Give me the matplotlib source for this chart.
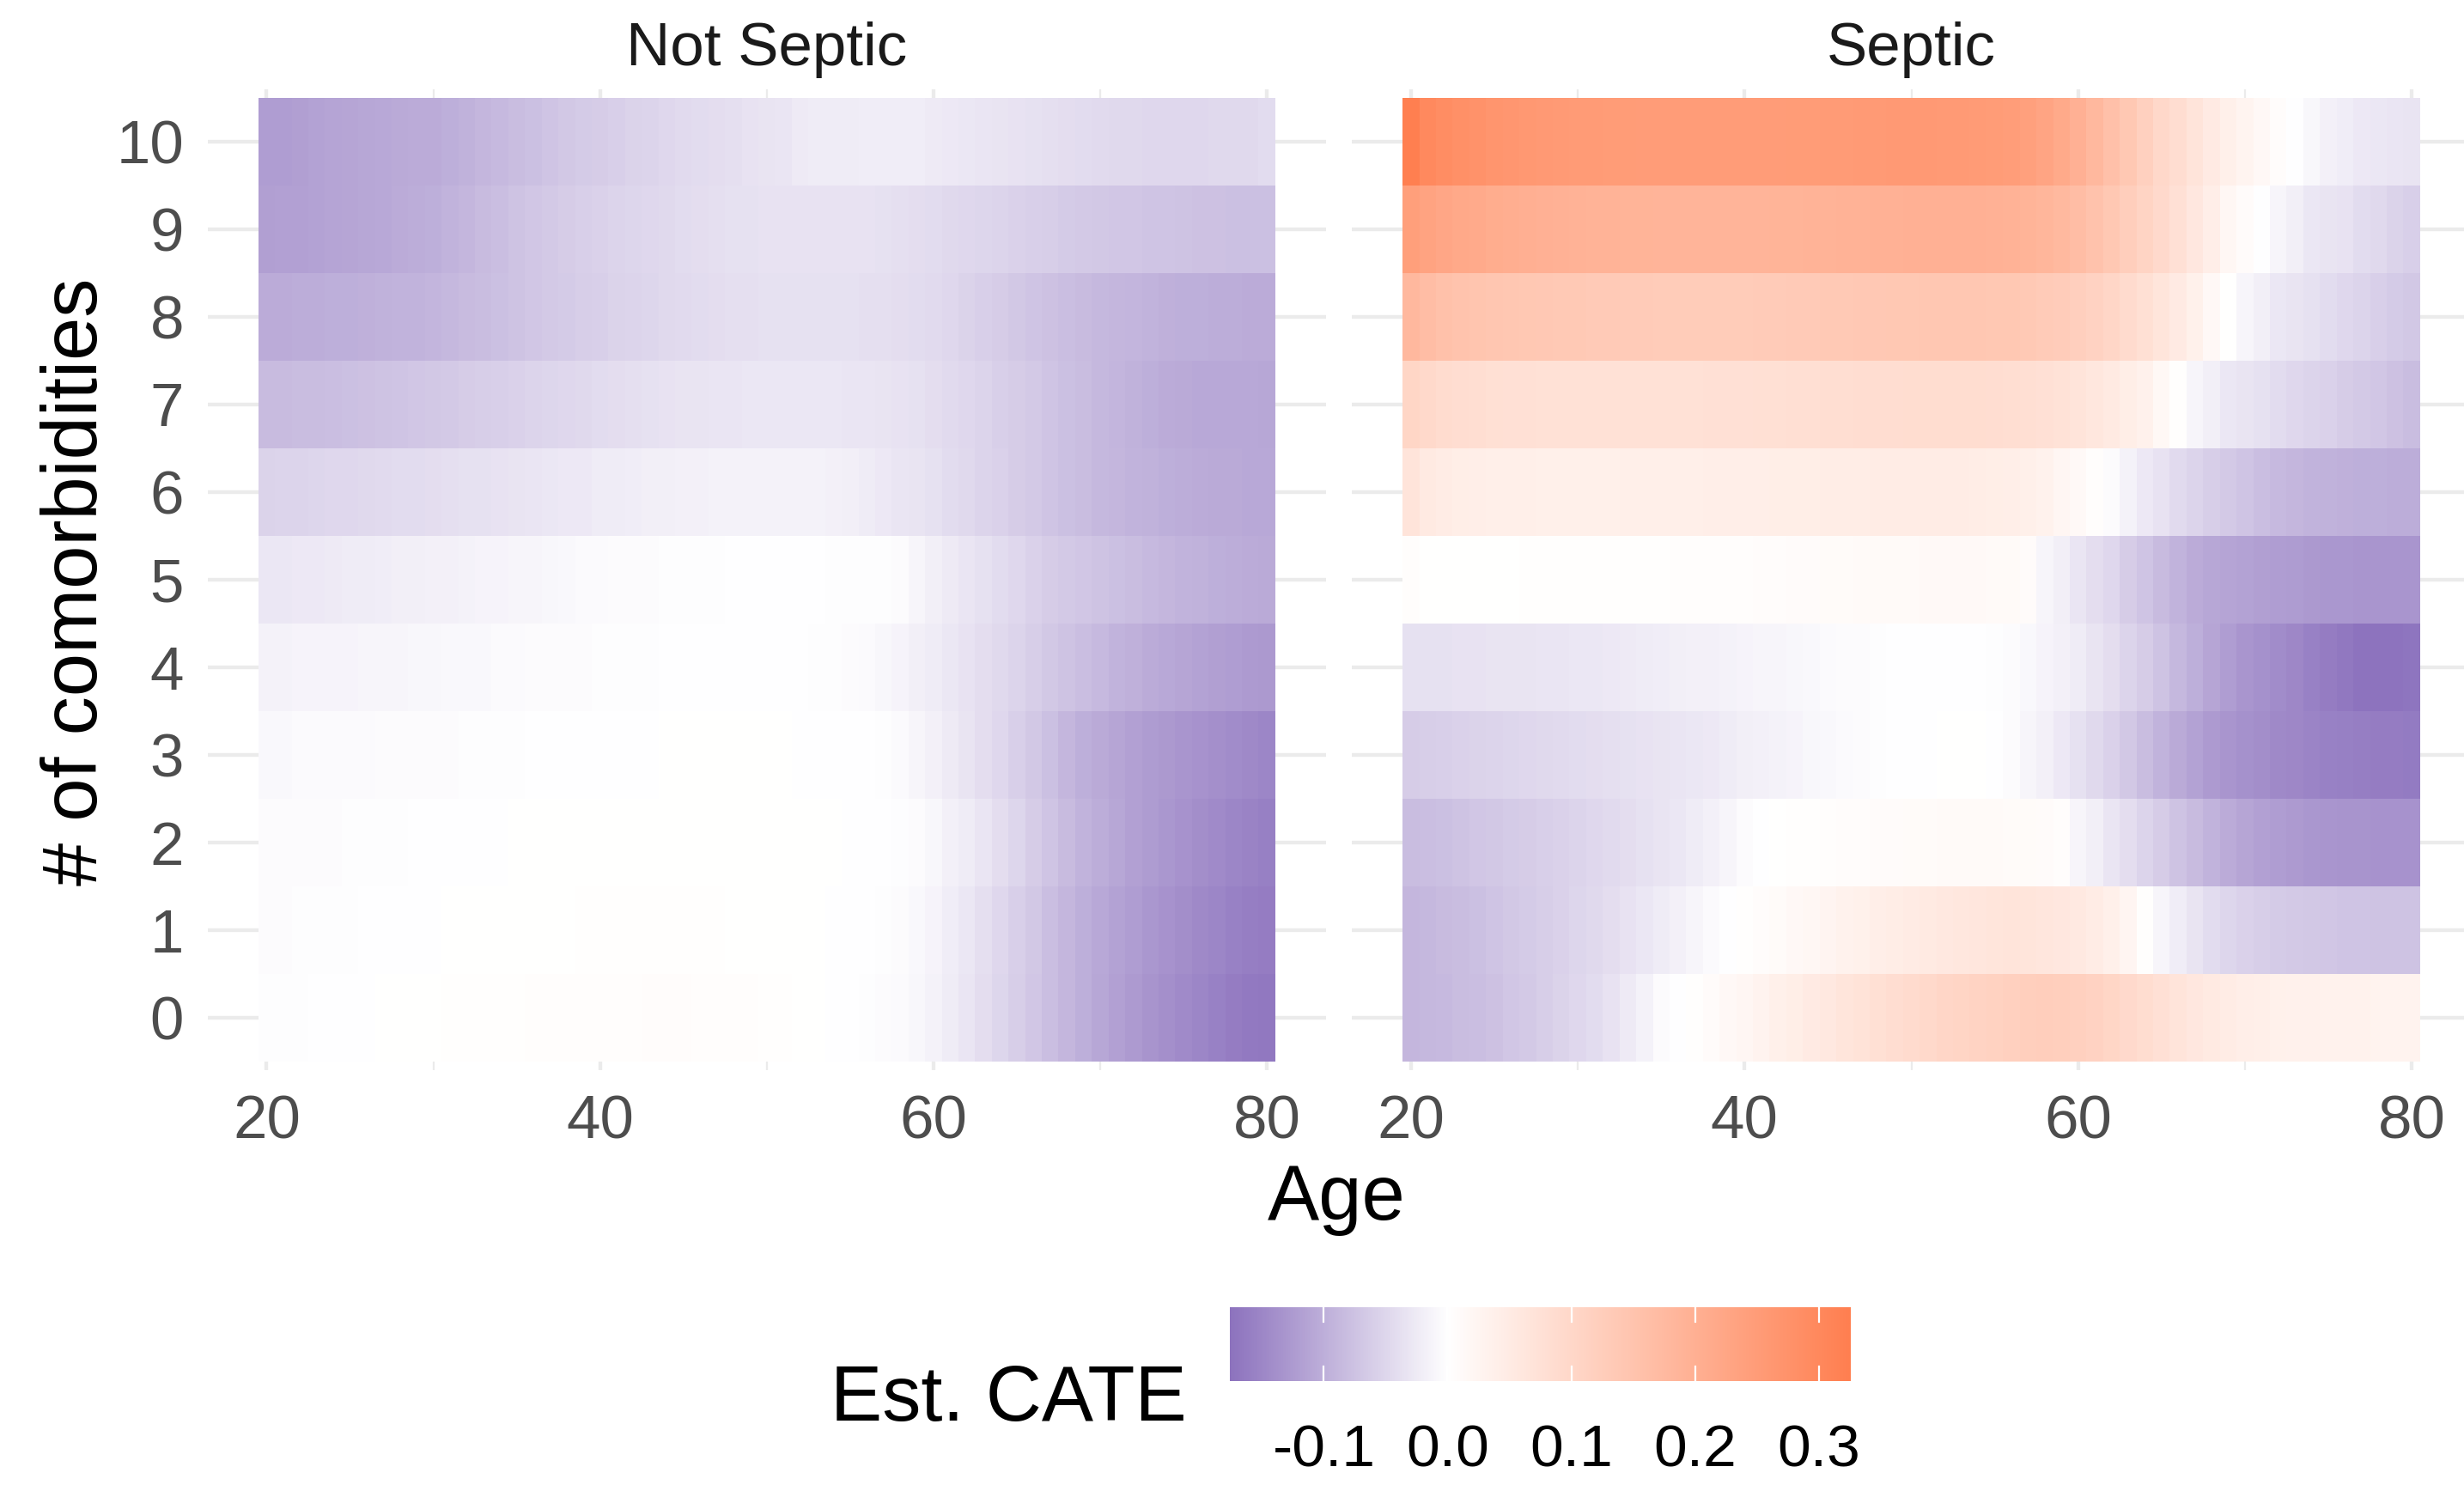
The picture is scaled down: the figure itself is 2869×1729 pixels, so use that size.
import numpy as np
import matplotlib
matplotlib.use("Agg")
import matplotlib.pyplot as plt
from matplotlib.colors import LinearSegmentedColormap, Normalize
from matplotlib.transforms import blended_transform_factory

# ---------------- data ----------------
ages = list(range(20, 81))
comorbidities = list(range(0, 11))
panel_titles = ["Not Septic", "Septic"]
x_tick_values = [20, 40, 60, 80]
x_minor_values = [30, 50, 70]
cbar_tick_values = [-0.1, 0.0, 0.1, 0.2, 0.3]
cbar_tick_labels = ["-0.1", "0.0", "0.1", "0.2", "0.3"]
x_label = "Age"
y_label = "# of comorbidities"
legend_title = "Est. CATE"

# Not Septic: one list per number of comorbidities, ages 20..80
not_septic_0 = [-0.003,-0.002,-0.002,-0.001,-0.001,0.000,0.000,0.001,0.001,0.002,
                0.002,0.003,0.003,0.004,0.004,0.004,0.005,0.005,0.005,0.006,
                0.006,0.006,0.006,0.007,0.007,0.007,0.006,0.006,0.005,0.005,
                0.004,0.003,0.002,0.001,0.000,-0.001,-0.002,-0.004,-0.007,-0.011,
                -0.017,-0.024,-0.032,-0.041,-0.051,-0.061,-0.071,-0.081,-0.091,-0.101,
                -0.110,-0.118,-0.126,-0.133,-0.140,-0.146,-0.152,-0.158,-0.163,-0.167,
                -0.170]
not_septic_1 = [-0.004,-0.004,-0.003,-0.003,-0.002,-0.002,-0.001,-0.001,0.000,0.000,
                0.000,0.001,0.001,0.001,0.002,0.002,0.002,0.002,0.002,0.003,
                0.003,0.003,0.003,0.003,0.003,0.003,0.003,0.003,0.002,0.002,
                0.002,0.002,0.001,0.001,0.000,0.000,-0.001,-0.002,-0.005,-0.009,
                -0.015,-0.022,-0.030,-0.040,-0.050,-0.060,-0.070,-0.080,-0.090,-0.100,
                -0.108,-0.116,-0.123,-0.130,-0.136,-0.141,-0.147,-0.152,-0.157,-0.161,
                -0.164]
not_septic_2 = [-0.005,-0.005,-0.004,-0.004,-0.004,-0.003,-0.003,-0.002,-0.002,-0.001,
                -0.001,-0.001,0.000,0.000,0.000,0.001,0.001,0.001,0.001,0.001,
                0.001,0.002,0.002,0.002,0.002,0.002,0.002,0.002,0.002,0.002,
                0.001,0.001,0.001,0.001,0.001,0.000,0.000,-0.001,-0.002,-0.005,
                -0.011,-0.018,-0.024,-0.031,-0.041,-0.052,-0.063,-0.073,-0.084,-0.094,
                -0.103,-0.111,-0.119,-0.124,-0.130,-0.135,-0.141,-0.146,-0.151,-0.156,
                -0.160]
not_septic_3 = [-0.008,-0.008,-0.007,-0.007,-0.006,-0.006,-0.006,-0.005,-0.005,-0.005,
                -0.004,-0.004,-0.003,-0.003,-0.002,-0.002,-0.001,-0.001,-0.001,0.000,
                0.000,0.000,0.000,0.000,0.001,0.001,0.001,0.001,0.001,0.001,
                0.001,0.001,0.000,0.000,0.000,0.000,-0.001,-0.002,-0.006,-0.012,
                -0.019,-0.026,-0.033,-0.041,-0.050,-0.059,-0.069,-0.079,-0.090,-0.100,
                -0.107,-0.113,-0.119,-0.124,-0.128,-0.132,-0.136,-0.140,-0.144,-0.148,
                -0.151]
not_septic_4 = [-0.016,-0.016,-0.015,-0.015,-0.014,-0.014,-0.013,-0.012,-0.012,-0.011,
                -0.010,-0.009,-0.009,-0.008,-0.007,-0.006,-0.005,-0.005,-0.004,-0.004,
                -0.003,-0.003,-0.002,-0.002,-0.001,-0.001,-0.001,0.000,0.000,0.000,
                0.000,-0.001,-0.001,-0.002,-0.003,-0.005,-0.007,-0.010,-0.015,-0.021,
                -0.025,-0.030,-0.035,-0.041,-0.047,-0.054,-0.061,-0.069,-0.075,-0.080,
                -0.087,-0.094,-0.099,-0.104,-0.109,-0.113,-0.117,-0.120,-0.123,-0.126,
                -0.128]
not_septic_5 = [-0.030,-0.029,-0.028,-0.027,-0.026,-0.025,-0.024,-0.022,-0.021,-0.020,
                -0.019,-0.018,-0.017,-0.015,-0.014,-0.013,-0.012,-0.010,-0.009,-0.007,
                -0.006,-0.005,-0.005,-0.004,-0.003,-0.003,-0.002,-0.002,-0.001,-0.001,
                -0.001,-0.001,-0.001,-0.001,-0.002,-0.002,-0.003,-0.003,-0.005,-0.012,
                -0.020,-0.026,-0.032,-0.038,-0.044,-0.050,-0.057,-0.063,-0.067,-0.071,
                -0.075,-0.079,-0.083,-0.087,-0.091,-0.094,-0.097,-0.100,-0.103,-0.105,
                -0.107]
not_septic_6 = [-0.055,-0.054,-0.053,-0.052,-0.050,-0.049,-0.048,-0.046,-0.044,-0.043,
                -0.041,-0.040,-0.038,-0.037,-0.035,-0.034,-0.032,-0.030,-0.028,-0.027,
                -0.025,-0.024,-0.023,-0.021,-0.020,-0.019,-0.018,-0.017,-0.017,-0.016,
                -0.016,-0.016,-0.016,-0.017,-0.019,-0.021,-0.024,-0.027,-0.031,-0.034,
                -0.038,-0.043,-0.048,-0.053,-0.058,-0.063,-0.068,-0.073,-0.078,-0.083,
                -0.088,-0.091,-0.094,-0.097,-0.100,-0.103,-0.104,-0.106,-0.107,-0.108,
                -0.109]
not_septic_7 = [-0.085,-0.084,-0.083,-0.082,-0.080,-0.079,-0.077,-0.075,-0.073,-0.071,
                -0.069,-0.067,-0.064,-0.062,-0.059,-0.057,-0.054,-0.052,-0.049,-0.047,
                -0.044,-0.042,-0.040,-0.038,-0.036,-0.034,-0.033,-0.032,-0.031,-0.030,
                -0.029,-0.029,-0.029,-0.029,-0.030,-0.031,-0.032,-0.034,-0.036,-0.038,
                -0.041,-0.045,-0.050,-0.054,-0.059,-0.063,-0.068,-0.073,-0.078,-0.083,
                -0.088,-0.092,-0.096,-0.100,-0.104,-0.107,-0.108,-0.108,-0.109,-0.109,
                -0.110]
not_septic_8 = [-0.105,-0.104,-0.103,-0.102,-0.101,-0.100,-0.099,-0.097,-0.095,-0.094,
                -0.092,-0.089,-0.085,-0.082,-0.078,-0.075,-0.072,-0.068,-0.065,-0.062,
                -0.059,-0.056,-0.054,-0.051,-0.048,-0.046,-0.044,-0.042,-0.040,-0.039,
                -0.038,-0.037,-0.037,-0.037,-0.037,-0.038,-0.039,-0.040,-0.042,-0.044,
                -0.046,-0.050,-0.055,-0.059,-0.064,-0.069,-0.073,-0.077,-0.081,-0.084,
                -0.088,-0.090,-0.093,-0.095,-0.098,-0.100,-0.101,-0.102,-0.103,-0.104,
                -0.104]
not_septic_9 = [-0.120,-0.119,-0.118,-0.117,-0.115,-0.113,-0.111,-0.108,-0.105,-0.102,
                -0.100,-0.095,-0.090,-0.085,-0.080,-0.075,-0.071,-0.067,-0.063,-0.060,
                -0.057,-0.054,-0.052,-0.049,-0.047,-0.044,-0.042,-0.040,-0.038,-0.037,
                -0.036,-0.035,-0.035,-0.035,-0.035,-0.035,-0.036,-0.037,-0.039,-0.041,
                -0.044,-0.047,-0.049,-0.052,-0.054,-0.057,-0.060,-0.062,-0.065,-0.067,
                -0.069,-0.071,-0.072,-0.073,-0.074,-0.075,-0.076,-0.077,-0.078,-0.078,
                -0.078]
not_septic_10 = [-0.123,-0.122,-0.120,-0.117,-0.115,-0.113,-0.111,-0.109,-0.107,-0.105,
                 -0.104,-0.100,-0.096,-0.091,-0.086,-0.082,-0.078,-0.074,-0.070,-0.066,
                 -0.063,-0.060,-0.056,-0.053,-0.049,-0.046,-0.044,-0.041,-0.039,-0.036,
                 -0.034,-0.032,-0.026,-0.025,-0.025,-0.024,-0.023,-0.023,-0.022,-0.023,
                 -0.026,-0.028,-0.030,-0.032,-0.034,-0.036,-0.038,-0.040,-0.042,-0.044,
                 -0.046,-0.047,-0.048,-0.049,-0.049,-0.049,-0.049,-0.048,-0.048,-0.047,
                 -0.044]

# Septic
septic_0 = [-0.090,-0.088,-0.086,-0.083,-0.080,-0.076,-0.072,-0.067,-0.062,-0.056,
            -0.050,-0.043,-0.035,-0.026,-0.017,-0.005,0.000,0.004,0.010,0.017,
            0.024,0.031,0.038,0.045,0.052,0.059,0.066,0.073,0.080,0.086,
            0.092,0.098,0.103,0.108,0.112,0.116,0.120,0.123,0.125,0.124,
            0.120,0.113,0.105,0.096,0.087,0.078,0.069,0.061,0.054,0.048,
            0.043,0.040,0.037,0.035,0.034,0.033,0.032,0.032,0.031,0.031,
            0.030]
septic_1 = [-0.090,-0.088,-0.085,-0.082,-0.078,-0.074,-0.070,-0.066,-0.062,-0.057,
            -0.052,-0.047,-0.042,-0.036,-0.030,-0.024,-0.018,-0.012,-0.006,0.000,
            0.004,0.008,0.012,0.017,0.022,0.027,0.032,0.037,0.042,0.046,
            0.050,0.054,0.058,0.062,0.065,0.067,0.068,0.067,0.065,0.061,
            0.056,0.048,0.038,0.025,0.003,-0.013,-0.022,-0.034,-0.044,-0.052,
            -0.058,-0.062,-0.065,-0.068,-0.070,-0.072,-0.073,-0.074,-0.075,-0.075,
            -0.075]
septic_2 = [-0.082,-0.080,-0.078,-0.075,-0.072,-0.069,-0.066,-0.063,-0.060,-0.057,
            -0.054,-0.050,-0.046,-0.042,-0.038,-0.034,-0.030,-0.025,-0.019,-0.012,
            -0.005,0.000,0.002,0.003,0.004,0.006,0.007,0.008,0.009,0.010,
            0.011,0.012,0.013,0.013,0.013,0.013,0.012,0.011,0.009,0.005,
            -0.013,-0.021,-0.031,-0.041,-0.054,-0.063,-0.075,-0.084,-0.094,-0.104,
            -0.113,-0.118,-0.122,-0.126,-0.129,-0.131,-0.133,-0.134,-0.135,-0.135,
            -0.135]
septic_3 = [-0.064,-0.062,-0.060,-0.058,-0.056,-0.054,-0.052,-0.050,-0.048,-0.046,
            -0.044,-0.042,-0.040,-0.038,-0.036,-0.034,-0.032,-0.030,-0.027,-0.024,
            -0.021,-0.019,-0.016,-0.014,-0.011,-0.009,-0.006,-0.004,-0.002,-0.001,
            0.000,0.000,0.001,0.001,0.001,0.000,-0.004,-0.013,-0.019,-0.028,
            -0.038,-0.047,-0.057,-0.069,-0.082,-0.094,-0.107,-0.116,-0.126,-0.132,
            -0.138,-0.142,-0.147,-0.150,-0.154,-0.157,-0.159,-0.161,-0.163,-0.164,
            -0.165]
septic_4 = [-0.038,-0.037,-0.037,-0.036,-0.035,-0.034,-0.034,-0.033,-0.032,-0.031,
            -0.030,-0.029,-0.027,-0.026,-0.024,-0.022,-0.021,-0.019,-0.018,-0.016,
            -0.015,-0.013,-0.012,-0.010,-0.009,-0.007,-0.005,-0.004,-0.002,-0.001,
            -0.001,0.000,0.000,0.000,-0.001,-0.002,-0.004,-0.009,-0.014,-0.019,
            -0.025,-0.034,-0.041,-0.054,-0.063,-0.075,-0.088,-0.100,-0.113,-0.122,
            -0.132,-0.138,-0.144,-0.150,-0.157,-0.164,-0.170,-0.176,-0.176,-0.175,
            -0.174]
septic_5 = [0.006,0.002,0.001,0.001,0.002,0.002,0.002,0.003,0.003,0.003,
            0.003,0.003,0.003,0.004,0.004,0.004,0.005,0.005,0.005,0.006,
            0.006,0.007,0.008,0.009,0.010,0.011,0.012,0.013,0.013,0.014,
            0.014,0.015,0.015,0.015,0.015,0.014,0.013,0.010,-0.012,-0.021,
            -0.031,-0.041,-0.050,-0.063,-0.073,-0.084,-0.094,-0.104,-0.110,-0.114,
            -0.117,-0.120,-0.123,-0.125,-0.127,-0.129,-0.130,-0.131,-0.132,-0.132,
            -0.132]
septic_6 = [0.068,0.055,0.048,0.045,0.043,0.041,0.040,0.040,0.039,0.039,
            0.039,0.039,0.039,0.040,0.040,0.040,0.041,0.041,0.042,0.042,
            0.043,0.043,0.044,0.045,0.045,0.046,0.047,0.047,0.048,0.049,
            0.049,0.049,0.049,0.048,0.047,0.045,0.042,0.038,0.032,0.024,
            0.015,0.006,-0.004,-0.017,-0.027,-0.036,-0.045,-0.053,-0.061,-0.068,
            -0.074,-0.080,-0.086,-0.090,-0.094,-0.097,-0.099,-0.100,-0.101,-0.102,
            -0.103]
septic_7 = [0.105,0.097,0.090,0.086,0.083,0.080,0.078,0.077,0.076,0.075,
            0.075,0.075,0.075,0.075,0.075,0.075,0.076,0.076,0.077,0.078,
            0.078,0.079,0.080,0.081,0.082,0.083,0.084,0.085,0.085,0.086,
            0.087,0.088,0.088,0.088,0.087,0.086,0.084,0.081,0.078,0.074,
            0.069,0.062,0.054,0.045,0.034,0.020,0.003,-0.013,-0.021,-0.029,
            -0.034,-0.038,-0.044,-0.049,-0.054,-0.058,-0.063,-0.067,-0.072,-0.077,
            -0.082]
septic_8 = [0.180,0.168,0.158,0.152,0.148,0.145,0.142,0.140,0.138,0.137,
            0.136,0.135,0.134,0.133,0.132,0.131,0.131,0.131,0.131,0.131,
            0.131,0.132,0.133,0.134,0.135,0.136,0.137,0.138,0.139,0.140,
            0.141,0.142,0.142,0.142,0.142,0.141,0.140,0.137,0.133,0.128,
            0.122,0.114,0.104,0.092,0.080,0.066,0.052,0.036,0.018,0.002,
            -0.013,-0.021,-0.029,-0.034,-0.038,-0.044,-0.049,-0.054,-0.059,-0.065,
            -0.069]
septic_9 = [0.245,0.235,0.225,0.220,0.215,0.210,0.206,0.203,0.200,0.197,
            0.195,0.194,0.193,0.192,0.191,0.190,0.190,0.189,0.189,0.189,
            0.189,0.190,0.191,0.192,0.193,0.194,0.195,0.196,0.197,0.198,
            0.199,0.200,0.200,0.200,0.199,0.198,0.196,0.192,0.186,0.178,
            0.168,0.155,0.140,0.125,0.110,0.095,0.078,0.060,0.042,0.022,
            0.010,0.000,-0.013,-0.021,-0.030,-0.033,-0.036,-0.043,-0.047,-0.055,
            -0.060]
septic_10 = [0.326,0.300,0.290,0.282,0.276,0.270,0.266,0.262,0.259,0.257,
             0.255,0.254,0.253,0.252,0.251,0.250,0.250,0.250,0.250,0.250,
             0.250,0.250,0.251,0.252,0.253,0.254,0.255,0.256,0.257,0.258,
             0.258,0.258,0.257,0.256,0.254,0.252,0.248,0.240,0.230,0.218,
             0.200,0.180,0.160,0.140,0.120,0.100,0.085,0.068,0.052,0.038,
             0.028,0.018,0.008,0.000,-0.010,-0.018,-0.023,-0.027,-0.030,-0.032,
             -0.034]

not_septic = np.array([not_septic_0, not_septic_1, not_septic_2, not_septic_3,
                       not_septic_4, not_septic_5, not_septic_6, not_septic_7,
                       not_septic_8, not_septic_9, not_septic_10])
septic = np.array([septic_0, septic_1, septic_2, septic_3, septic_4, septic_5,
                   septic_6, septic_7, septic_8, septic_9, septic_10])

# ---------------- style ----------------
W, H, DPI = 2869, 1729, 100
FONT = "Liberation Sans"
plt.rcParams["font.family"] = [FONT, "DejaVu Sans"]
GRID = "#EBEBEB"
LOW_COL = (141/255, 115/255, 190/255)
HIGH_COL = "#FF7F50"

vmin = float(min(not_septic.min(), septic.min()))
vmax = float(max(not_septic.max(), septic.max()))
zero_pos = (0 - vmin) / (vmax - vmin)
cmap = LinearSegmentedColormap.from_list(
    "cate", [(0.0, LOW_COL), (zero_pos, "#FFFFFF"), (1.0, HIGH_COL)])
norm = Normalize(vmin=vmin, vmax=vmax)

fig = plt.figure(figsize=(W / DPI, H / DPI), dpi=DPI)
fig.patch.set_facecolor("white")

def ax_rect(x0, x1, y0, y1):
    return [x0 / W, 1 - y1 / H, (x1 - x0) / W, (y1 - y0) / H]

panel_y0, panel_y1 = 104, 1246
panels_x = [(241.5, 1544), (1574, 2877)]
x_edges = np.arange(ages[0] - 0.5, ages[-1] + 1.0, 1.0)
y_edges = np.arange(comorbidities[0] - 0.5, comorbidities[-1] + 1.0, 1.0)
xexp = 0.05 * (x_edges[-1] - x_edges[0])
tick_fs = 51
title_fs = 65

for i, (data, title) in enumerate(zip([not_septic, septic], panel_titles)):
    x0, x1 = panels_x[i]
    ax = fig.add_axes(ax_rect(x0, x1, panel_y0, panel_y1))
    ax.set_facecolor("none")
    for s in ax.spines.values():
        s.set_visible(False)
    ax.pcolormesh(x_edges, y_edges, data, cmap=cmap, norm=norm,
                  shading="flat", edgecolors="none", linewidth=0,
                  antialiased=False, zorder=2)
    ax.set_xlim(x_edges[0] - xexp, x_edges[-1] + xexp)
    ax.set_ylim(y_edges[0] - 0.098, y_edges[-1] + 0.098)
    ax.set_xticks(x_tick_values)
    ax.set_xticks(x_minor_values, minor=True)
    ax.set_yticks(comorbidities)
    ax.set_yticks([], minor=True)
    ax.grid(which="major", color=GRID, linewidth=3.1, zorder=0)
    ax.grid(which="minor", axis="x", color=GRID, linewidth=1.6, zorder=0)
    ax.set_axisbelow(True)
    ax.tick_params(which="both", length=0, labelbottom=False, labelleft=False)
    # x tick labels (baseline at y=1326 px)
    tx = blended_transform_factory(ax.transData, fig.transFigure)
    for v in x_tick_values:
        ax.text(v, 1 - 1326 / H, str(v), transform=tx, ha="center",
                va="baseline", fontsize=tick_fs, color="#4D4D4D", clip_on=False)
    # y tick labels only on left panel
    if i == 0:
        ty = blended_transform_factory(fig.transFigure, ax.transData)
        for c in comorbidities:
            ax.text(214 / W, c, str(c), transform=ty, ha="right",
                    va="center_baseline", fontsize=tick_fs, color="#4D4D4D",
                    clip_on=False)
    # strip title
    fig.text(((x0 + x1) / 2) / W, 1 - 76 / H, title, ha="center", va="baseline",
             fontsize=tick_fs, color="#1A1A1A")

# axis titles
fig.text(1556 / W, 1 - 1420 / H, x_label, ha="center", va="baseline",
         fontsize=title_fs, color="black")
fig.text(113 / W, 1 - 677 / H, y_label, ha="center", va="baseline",
         rotation=90, rotation_mode="anchor", fontsize=title_fs, color="black")

# colorbar legend
cax = fig.add_axes(ax_rect(1432, 2155, 1522, 1608))
grad = np.linspace(vmin, vmax, 512)[None, :]
cax.imshow(grad, extent=[vmin, vmax, 0, 1], aspect="auto", cmap=cmap, norm=norm,
           interpolation="bilinear")
cax.set_xlim(vmin, vmax)
cax.set_ylim(0, 1)
for s in cax.spines.values():
    s.set_visible(False)
cax.set_xticks([])
cax.set_yticks([])
for v in cbar_tick_values:
    cax.plot([v, v], [0, 0.2], color="white", lw=1.6)
    cax.plot([v, v], [0.8, 1.0], color="white", lw=1.6)
tcb = blended_transform_factory(cax.transData, fig.transFigure)
for v, lab in zip(cbar_tick_values, cbar_tick_labels):
    cax.text(v, 1 - 1707 / H, lab, transform=tcb, ha="center", va="baseline",
             fontsize=50, color="black", clip_on=False)
fig.text(1382 / W, 1 - 1654 / H, legend_title, ha="right", va="baseline",
         fontsize=title_fs, color="black")

fig.savefig("out.png", dpi=DPI, facecolor="white")
